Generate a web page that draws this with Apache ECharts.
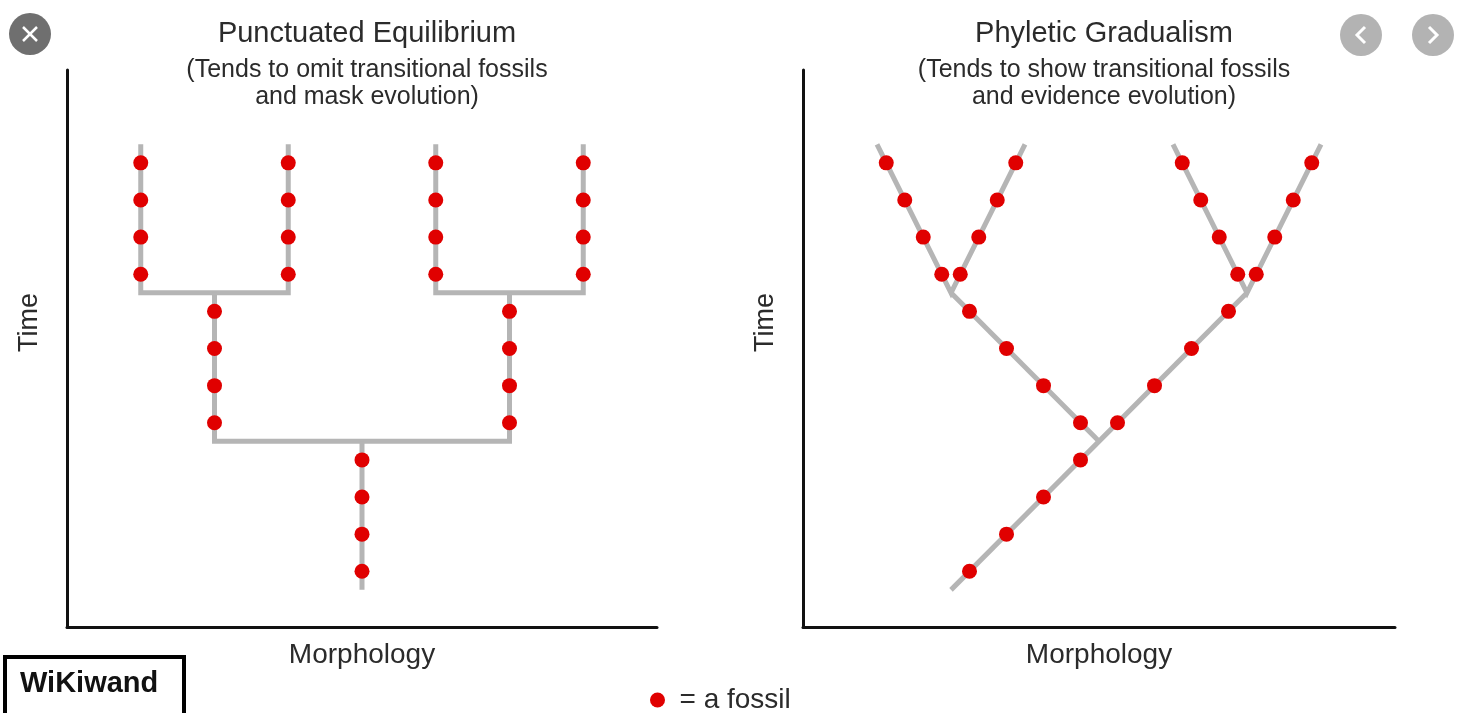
<!DOCTYPE html>
<html>
<head>
<meta charset="utf-8">
<script src="https://cdn.jsdelivr.net/npm/echarts@6/dist/echarts.min.js"></script>
<style>
html,body{margin:0;padding:0;background:#ffffff;}
#chart{width:1463px;height:713px;}
</style>
</head>
<body>
<div id="chart"></div>
<script>
// ---------- data ----------
const panelTitles = ['Punctuated Equilibrium', 'Phyletic Gradualism'];
const panelSubtitles = [
  '(Tends to omit transitional fossils\nand mask evolution)',
  '(Tends to show transitional fossils\nand evidence evolution)'
];
const xAxisName = 'Morphology';
const yAxisName = 'Time';
const legendLabel = '= a fossil';
const badgeText = 'WiKiwand';

// Punctuated equilibrium: fossils [morphology, time]
const peFossils = [
  [1, 9.5], [1, 10.5], [1, 11.5], [1, 12.5],
  [3, 9.5], [3, 10.5], [3, 11.5], [3, 12.5],
  [5, 9.5], [5, 10.5], [5, 11.5], [5, 12.5],
  [7, 9.5], [7, 10.5], [7, 11.5], [7, 12.5],
  [2, 5.5], [2, 6.5], [2, 7.5], [2, 8.5],
  [6, 5.5], [6, 6.5], [6, 7.5], [6, 8.5],
  [4, 1.5], [4, 2.5], [4, 3.5], [4, 4.5]
];
// Punctuated equilibrium: lineage paths
const peBranches = [
  [[1, 13], [1, 9], [3, 9], [3, 13]],
  [[5, 13], [5, 9], [7, 9], [7, 13]],
  [[2, 9], [2, 5], [6, 5], [6, 9]],
  [[4, 5], [4, 1]]
];

// Phyletic gradualism: fossils [morphology, time]
const pgFossils = [
  [2.25, 1.5], [2.75, 2.5], [3.25, 3.5], [3.75, 4.5],
  [4.25, 5.5], [4.75, 6.5], [5.25, 7.5], [5.75, 8.5],
  [3.75, 5.5], [3.25, 6.5], [2.75, 7.5], [2.25, 8.5],
  [1.875, 9.5], [1.625, 10.5], [1.375, 11.5], [1.125, 12.5],
  [2.125, 9.5], [2.375, 10.5], [2.625, 11.5], [2.875, 12.5],
  [5.875, 9.5], [5.625, 10.5], [5.375, 11.5], [5.125, 12.5],
  [6.125, 9.5], [6.375, 10.5], [6.625, 11.5], [6.875, 12.5]
];
// Phyletic gradualism: lineage paths
const pgBranches = [
  [[2, 1], [6, 9]],
  [[5, 13], [6, 9], [7, 13]],
  [[4, 5], [2, 9]],
  [[1, 13], [2, 9], [3, 13]]
];

// ---------- styling ----------
const FONT = '"Liberation Sans", Arial, Helvetica, sans-serif';
const LINE_GRAY = '#b5b5b5';
const FOSSIL_RED = '#e00000';
const TEXT = '#2b2b2b';

const grids = [
  {left: 67, top: 70, width: 590, height: 557},
  {left: 803, top: 70, width: 592, height: 557}
];

function xAxisFor(i) {
  return {
    type: 'value', gridIndex: i, min: 0, max: 8,
    name: xAxisName, nameLocation: 'middle', nameGap: 14,
    nameTextStyle: {fontSize: 28, color: TEXT, fontFamily: FONT},
    axisLine: {show: true, onZero: false, lineStyle: {color: '#111', width: 3}},
    axisTick: {show: false}, axisLabel: {show: false}, splitLine: {show: false}
  };
}
function yAxisFor(i) {
  return {
    type: 'value', gridIndex: i, min: 0, max: 15,
    name: yAxisName, nameLocation: 'middle', nameGap: 24,
    nameTextStyle: {fontSize: 27, color: TEXT, fontFamily: FONT, padding: [0, 0, 0, 52]},
    axisLine: {show: true, onZero: false, lineStyle: {color: '#111', width: 3}},
    axisTick: {show: false}, axisLabel: {show: false}, splitLine: {show: false}
  };
}

function branchSeries(branches, idx) {
  return branches.map(b => ({
    type: 'line', xAxisIndex: idx, yAxisIndex: idx, data: b,
    symbol: 'none', showSymbol: false, silent: true, z: 2,
    lineStyle: {color: LINE_GRAY, width: 5, cap: 'butt', join: 'miter', opacity: 1},
    emphasis: {disabled: true}
  }));
}
function fossilSeries(points, idx) {
  return {
    type: 'scatter', name: legendLabel, xAxisIndex: idx, yAxisIndex: idx,
    data: points, symbol: 'circle', symbolSize: 15, z: 5,
    itemStyle: {color: FOSSIL_RED, opacity: 1}
  };
}

const option = {
  animation: false,
  backgroundColor: '#ffffff',
  textStyle: {fontFamily: FONT},
  title: [0, 1].map(i => ({
    text: panelTitles[i],
    subtext: panelSubtitles[i],
    left: grids[i].left + grids[i].width / 2,
    textAlign: 'center',
    top: 14,
    itemGap: 9,
    textStyle: {fontSize: 29, fontWeight: 'normal', color: TEXT, fontFamily: FONT},
    subtextStyle: {fontSize: 25, color: TEXT, fontFamily: FONT, lineHeight: 27}
  })),
  grid: grids.map(g => Object.assign({containLabel: false, outerBoundsMode: 'none'}, g)),
  xAxis: [xAxisFor(0), xAxisFor(1)],
  yAxis: [yAxisFor(0), yAxisFor(1)],
  legend: {
    data: [{name: legendLabel, icon: 'circle', itemStyle: {color: FOSSIL_RED, opacity: 1}}],
    left: 645, top: 681,
    itemWidth: 34, itemHeight: 15,
    textStyle: {fontSize: 28, color: TEXT, fontFamily: FONT},
    selectedMode: false
  },
  graphic: [
    // close button
    {type: 'circle', shape: {cx: 30, cy: 34, r: 21}, style: {fill: '#6f6f6f'}, silent: true},
    {type: 'line', shape: {x1: 23, y1: 27, x2: 37, y2: 41}, style: {stroke: '#fff', lineWidth: 2.5}, silent: true},
    {type: 'line', shape: {x1: 37, y1: 27, x2: 23, y2: 41}, style: {stroke: '#fff', lineWidth: 2.5}, silent: true},
    // prev / next buttons
    {type: 'circle', shape: {cx: 1361, cy: 35, r: 21}, style: {fill: '#b3b3b3'}, silent: true},
    {type: 'polyline', shape: {points: [[1365, 27], [1357, 35], [1365, 43]]}, style: {stroke: '#fff', lineWidth: 3, fill: null}, silent: true},
    {type: 'circle', shape: {cx: 1433, cy: 35, r: 21}, style: {fill: '#b3b3b3'}, silent: true},
    {type: 'polyline', shape: {points: [[1429, 27], [1437, 35], [1429, 43]]}, style: {stroke: '#fff', lineWidth: 3, fill: null}, silent: true},
    // badge
    {type: 'rect', shape: {x: 5, y: 657, width: 179, height: 62}, style: {fill: '#fff', stroke: '#000', lineWidth: 4}, silent: true},
    {type: 'text', x: 20, y: 684, style: {text: badgeText, font: 'bold 29px ' + FONT, fill: '#111', textVerticalAlign: 'middle', verticalAlign: 'middle'}, silent: true}
  ],
  series: [].concat(
    branchSeries(peBranches, 0),
    branchSeries(pgBranches, 1),
    [fossilSeries(peFossils, 0), fossilSeries(pgFossils, 1)]
  )
};

const chart = echarts.init(document.getElementById('chart'), null, {renderer: 'canvas'});
chart.setOption(option);
</script>
</body>
</html>
